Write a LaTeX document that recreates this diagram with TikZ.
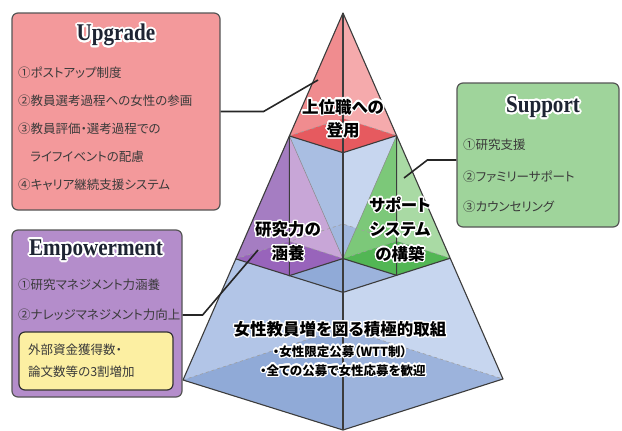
\documentclass[tikz,border=0pt]{standalone}
\usepackage{fontspec}
\setmainfont{Liberation Serif}
\newfontfamily\jp[RawFeature=+palt]{Noto Sans CJK JP}
\newfontfamily\ttlfont[FakeStretch=0.88]{Liberation Serif}
\usepackage[copies]{contour}
\contournumber{24}
\usetikzlibrary{calc}
\newcommand\halo[1]{\contour{white}{#1}}

\definecolor{boxred}{HTML}{F3999B}
\definecolor{boxgrn}{HTML}{9FD49B}
\definecolor{boxpur}{HTML}{B48DCB}
\definecolor{boxyel}{HTML}{FCEFA2}
\definecolor{boxedge}{HTML}{555555}
\definecolor{ttlcol}{HTML}{1E2433}
\definecolor{itemcol}{HTML}{3A3A3A}
\definecolor{pyredge}{HTML}{3C3C3C}
\definecolor{redL}{HTML}{F08C8F}
\definecolor{redR}{HTML}{F5AAAC}
\definecolor{redB}{HTML}{E65A5F}
\definecolor{purL}{HTML}{A57DC2}
\definecolor{purR}{HTML}{C8A6D7}
\definecolor{purB}{HTML}{9864BB}
\definecolor{grnL}{HTML}{7CC879}
\definecolor{grnR}{HTML}{A9DAA4}
\definecolor{grnB}{HTML}{52B654}
\definecolor{bluL}{HTML}{B2C5E7}
\definecolor{bluM}{HTML}{A9BEE2}
\definecolor{bluR}{HTML}{C7D6EF}
\definecolor{bluBk}{HTML}{A2B8DF}
\definecolor{bluDL}{HTML}{90AAD7}
\definecolor{bluDR}{HTML}{9CB3DC}

\begin{document}
\begin{tikzpicture}
[
x=1pt, y=-1pt,
infobox/.style={draw=boxedge,line width=1.2pt,rounded corners=6pt,fill=#1},
boxtitle/.style={font=\ttlfont\bfseries\fontsize{24}{24}\selectfont,text=ttlcol,inner sep=0pt},
item/.style={font=\jp\fontsize{12.5}{14}\selectfont,text=itemcol,anchor=west,inner sep=0pt},
plabel/.style={font=\jp\bfseries\fontsize{16.5}{#1}\selectfont,align=center,inner sep=0pt},
pedge/.style={draw=pyredge,line width=1.1pt},
hidden/.style={draw=gray!75,dashed,line width=0.6pt},
link/.style={draw=black!85,line width=1.6pt},
]
\useasboundingbox (0,0) rectangle (622,431);

%Corners of the pyramid
\coordinate (A) at (343,13);
\coordinate (L) at (183,380);
\coordinate (F) at (343,430);
\coordinate (R) at (503,379);
\coordinate (B) at (343,328);
\foreach \c in {L,F,R,B}{
  \coordinate (\c1) at ($(A)!0.335!(\c)$);
  \coordinate (\c2) at ($(A)!0.67!(\c)$);
}
\coordinate (C2) at ($(L2)!0.5!(R2)$);
\coordinate (mLF) at ($(L2)!0.5!(F2)$);
\coordinate (mLB) at ($(L2)!0.5!(B2)$);
\coordinate (mRF) at ($(R2)!0.5!(F2)$);
\coordinate (mRB) at ($(R2)!0.5!(B2)$);

%Bottom section
\fill[bluL] (L2) -- (F2) -- (F) -- (L) -- cycle;
\fill[bluR] (F2) -- (R2) -- (R) -- (F) -- cycle;
\fill[bluDL] (L) -- (F) -- (B) -- cycle;
\fill[bluDR] (F) -- (R) -- (B) -- cycle;
%Middle section
\fill[bluM] (L1) -- (F1) -- (F2) -- (L2) -- cycle;
\fill[bluR] (F1) -- (R1) -- (R2) -- (F2) -- cycle;
\fill[bluBk] (mLB) -- (B2) -- (mRB) -- (C2) -- cycle;
\fill[bluDL] (mLF) -- (F2) -- (C2) -- cycle;
\fill[bluDR] (F2) -- (mRF) -- (C2) -- cycle;
\fill[purL] (L1) -- (L2) -- (mLF) -- cycle;
\fill[purR] (L1) -- (mLF) -- (C2) -- cycle;
\fill[purB] (L2) -- (mLF) -- (C2) -- (mLB) -- cycle;
\fill[grnL] (R1) -- (C2) -- (mRF) -- cycle;
\fill[grnR] (R1) -- (mRF) -- (R2) -- cycle;
\fill[grnB] (C2) -- (mRF) -- (R2) -- (mRB) -- cycle;
%Top section
\fill[redL] (A) -- (L1) -- (F1) -- cycle;
\fill[redR] (A) -- (F1) -- (R1) -- cycle;
\fill[redB] (L1) -- (F1) -- (R1) -- (B1) -- cycle;

%Hidden edges
\draw[hidden] (L) -- (B) -- (R);
\draw[hidden] (L2) -- (B2) -- (R2);
\draw[hidden] (mLB) -- (C2) -- (mRB);
\draw[hidden] (L1) -- (B1) -- (R1);
%Visible edges
\draw[pyredge!60,line width=0.5pt] (L1) -- (C2) -- (R1);
\draw[pedge] (L1) -- (mLF) -- (C2) -- (mRF) -- (R1);
\draw[pedge] (L1) -- (F1) -- (R1);
\draw[pedge] (L2) -- (F2) -- (R2);
\draw[pedge,line join=round] (A) -- (L) -- (F) -- (R) -- cycle;
\draw[pedge] (A) -- (F);

%Labels on the pyramid
\contourlength{1.3pt}
\node[plabel=23] (top) at (343,119) {\halo{上位職への}\\\halo{登用}};
\node[plabel=24] (mid1) at (288,242) {\halo{研究力の}\\\halo{涵養}};
\node[plabel=24.5] (mid2) at (400,230) {\halo{サポート}\\\halo{システム}\\\halo{の構築}};
\node[plabel=20] (base) at (340,330) {\halo{女性教員増を図る積極的取組}};
\node[plabel=14,font=\jp\bfseries\fontsize{12.5}{14}\selectfont] (base1) at (340,352) {\halo{・女性限定公募（WTT制）}};
\node[plabel=14,font=\jp\bfseries\fontsize{12.5}{14}\selectfont] (base2) at (343,371) {\halo{・全ての公募で女性応募を歓迎}};

%Boxes
\node[infobox=boxred,minimum width=208,minimum height=197] (upbox) at (116,111.5) {};
\node[infobox=boxgrn,minimum width=162,minimum height=144] (supbox) at (538,155) {};
\node[infobox=boxpur,minimum width=170,minimum height=167] (empbox) at (97,313.5) {};
\node[infobox=boxyel,minimum width=154,minimum height=58,draw=black!80] (goalbox) at (96,361) {};

\contourlength{1.8pt}
\node[boxtitle] (uptitle) at (116,36) {\halo{Upgrade}};
\node[boxtitle] (suptitle) at (543,108) {\halo{Support}};
\node[boxtitle] (emptitle) at (96,251) {\halo{Empowerment}};

\node[item] (up1) at (18,73) {①ポストアップ制度};
\node[item] (up2) at (18,101) {②教員選考過程への女性の参画};
\node[item] (up3) at (18,129) {③教員評価・選考過程での};
\node[item] (up3b) at (30,157) {ライフイベントの配慮};
\node[item] (up4) at (18,185) {④キャリア継続支援システム};
\node[item] (sup1) at (463,145) {①研究支援};
\node[item] (sup2) at (463,177) {②ファミリーサポート};
\node[item] (sup3) at (463,207) {③カウンセリング};
\node[item] (emp1) at (18,285) {①研究マネジメント力涵養};
\node[item] (emp2) at (18,315) {②ナレッジマネジメント力向上};
\node[item] (goal1) at (28,350) {外部資金獲得数・};
\node[item] (goal2) at (28,372) {論文数等の3割増加};

%Draw the connections
\coordinate (upend) at (318,80);
\coordinate (supend) at (404,178);
\coordinate (empend) at (258,250);
\draw[link] (upbox.east) -- ++(43,0) -- (upend);
\draw[link] ([yshift=-5pt]supbox.west) -- ++(-29,0) -- (supend);
\draw[link] ([yshift=-1.5pt]empbox.east) -- ++(20,0) -- (empend);
\end{tikzpicture}
\end{document}
